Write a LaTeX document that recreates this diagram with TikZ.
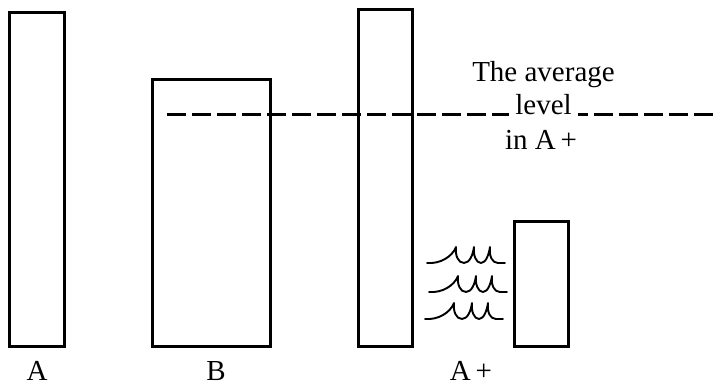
\documentclass[tikz,border=0pt]{standalone}
\usepackage{fontspec}
\setmainfont{Liberation Serif}
\begin{document}
\begin{tikzpicture}[x=1pt,y=-1pt,
  bar/.style={draw=black,line width=3pt,fill=white,inner sep=0pt,outer sep=0pt,anchor=north west},
  lbl/.style={anchor=base,inner sep=0pt,font=\fontsize{29}{34}\selectfont},
  levelline/.style={line width=3pt,dash pattern=on 19pt off 6pt},
  wave/.pic={\draw[line width=1.9pt,line cap=round,line join=round]
     (0,0) .. controls (13,1) and (25,-6) .. (29,-16)
     .. controls (28,-8) and (31,0) .. (37,0)
     .. controls (43,0) and (46,-9) .. (47,-16)
     .. controls (46,-8) and (49,0) .. (54,0)
     .. controls (59,0) and (62,-9) .. (63,-16)
     .. controls (62,-7) and (65,0) .. (71,0)
     .. controls (74,0) and (76,0) .. (78,0);}]
\useasboundingbox (0,0) rectangle (713,385);
% bars
\node[bar,minimum width=54.5pt,minimum height=333.5pt] (barA) at (9.5,12.5) {};
\node[bar,minimum width=117.5pt,minimum height=266.5pt] (barB) at (152.5,79.5) {};
% dashed average level
\coordinate (dashL) at (167,115);
\coordinate (dashR) at (713,115);
\node[lbl,inner xsep=6pt] (level) at (543.5,115) {level};
\draw[levelline] (dashL) -- (dashL -| level.west);
\draw[levelline] (dashR) -- (dashL -| level.east);
\node[draw=black,line width=3pt,inner sep=0pt,outer sep=0pt,anchor=north west,minimum width=53.5pt,minimum height=336.5pt] (barAp) at (358.5,9.5) {};
\node[bar,minimum width=53.5pt,minimum height=124.5pt] (barS) at (514.5,221.5) {};
% text
\node[lbl] (avg) at (543.5,82) {The average};
\node[lbl] (inap) at (541,150) {in A\,+};
\node[lbl] (labA) at (37,380) {A};
\node[lbl] (labB) at (216,380) {B};
\node[lbl] (labAp) at (471,380) {A\,+};
% wavy marks
\pic (w1) at (427,263) {wave};
\pic (w2) at (429,292) {wave};
\pic (w3) at (425,319) {wave};
\end{tikzpicture}
\end{document}
